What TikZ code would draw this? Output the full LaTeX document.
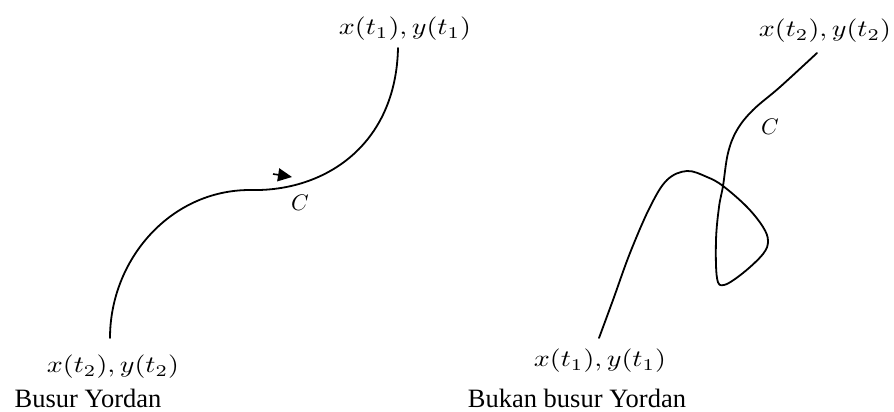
\documentclass[tikz,border=0pt]{standalone}
\usepackage{graphicx}
\usepackage{fontspec}
\setmainfont{Liberation Serif}
\newfontfamily\capfont{Liberation Serif}
\usetikzlibrary{arrows.meta}
\newcommand{\mlab}[1]{\scalebox{2.8}[2.35]{$#1$}}
\newcommand{\clab}[1]{\scalebox{2.25}{$#1$}}
\begin{document}
\begin{tikzpicture}[x=1pt,y=-1pt,
  crv/.style={line width=1.8pt, line cap=round, line join=round},
  mlbl/.style={inner sep=0pt},
  captext/.style={inner sep=0pt, font=\capfont\fontsize{26.5}{30}\selectfont}]
\useasboundingbox (0,0) rectangle (894,412);
% labels
\node[mlbl] (Lt) at (405,29) {\mlab{x(t_1), y(t_1)}};
\node[mlbl] (Lb) at (113,367) {\mlab{x(t_2), y(t_2)}};
\node[mlbl] (Rt) at (825,31) {\mlab{x(t_2), y(t_2)}};
\node[mlbl] (Rb) at (600,361) {\mlab{x(t_1), y(t_1)}};
\node[mlbl] (CL) at (300,203) {\clab{C}};
\node[mlbl] (CR) at (770,127) {\clab{C}};
\node[captext, anchor=base] (capL) at (88,407) {Busur Yordan};
\node[captext, anchor=base] (capR) at (577,407) {Bukan busur Yordan};
% curve ends
\coordinate (eL1) at (398,48);
\coordinate (eLm) at (250,190);
\coordinate (eL2) at (110,338);
\coordinate (eR1) at (599,338);
\coordinate (eR2) at (817,53);
% left curve (Jordan arc)
\draw[crv] (eL1) .. controls (396,145) and (325,192) .. (eLm)
                 .. controls (170,190) and (110,260) .. (eL2);
% direction arrow
\coordinate (at1) at (273,174);
\coordinate (at2) at (292,177);
\draw[line width=1.6pt, -{Triangle[length=14pt,width=13pt]}] (at1) -- (at2);
% right curve (not a Jordan arc)
\draw[crv] plot[smooth, tension=0.6] coordinates {(eR1) (613,300) (630,253) (650,207) (667,180) (687,171) (707,177) (723,186) (747,207) (763,227) (768,241) (763,254) (743,273) (724,285) (717,278) (716,240) (719,207) (723,186) (728,153) (737,130) (753,110) (780,87) (eR2)};
\end{tikzpicture}
\end{document}
